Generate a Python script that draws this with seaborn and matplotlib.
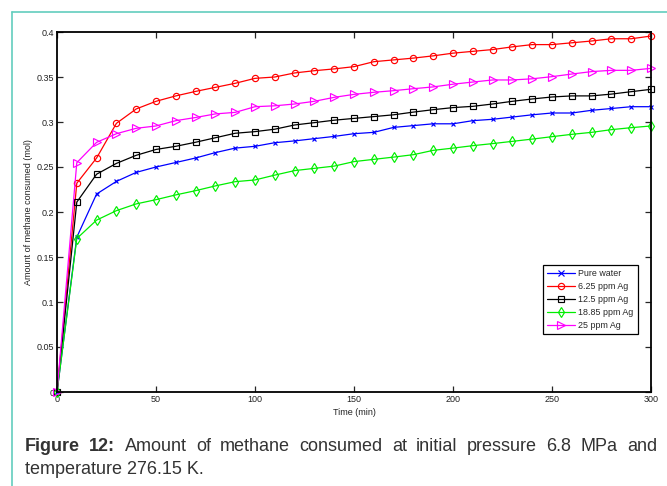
import numpy as np
import pandas as pd
import matplotlib
matplotlib.use("Agg")
import matplotlib.pyplot as plt
import seaborn as sns
from matplotlib.ticker import FixedLocator, FixedFormatter

# ---------------- data ----------------
time_min = [0, 10, 20, 30, 40, 50, 60, 70, 80, 90, 100, 110, 120, 130, 140, 150,
            160, 170, 180, 190, 200, 210, 220, 230, 240, 250, 260, 270, 280, 290, 300]
pure_water = [0, 0.172, 0.220, 0.234, 0.244, 0.250, 0.255, 0.260, 0.266, 0.271, 0.273,
              0.277, 0.279, 0.2815, 0.284, 0.287, 0.2885, 0.294, 0.296, 0.298, 0.298,
              0.3015, 0.303, 0.3055, 0.308, 0.310, 0.310, 0.313, 0.315, 0.317, 0.317]
ag_6_25 = [0, 0.232, 0.260, 0.2985, 0.3145, 0.323, 0.329, 0.334, 0.3385, 0.343, 0.3485,
           0.350, 0.3545, 0.357, 0.359, 0.3615, 0.367, 0.369, 0.371, 0.3735, 0.3765,
           0.3785, 0.3805, 0.3835, 0.386, 0.386, 0.388, 0.390, 0.3925, 0.3925, 0.3955]
ag_12_5 = [0, 0.211, 0.242, 0.254, 0.263, 0.2695, 0.273, 0.2775, 0.2825, 0.2875, 0.2893,
           0.292, 0.2967, 0.2993, 0.302, 0.304, 0.306, 0.308, 0.311, 0.3137, 0.316,
           0.3174, 0.320, 0.323, 0.3256, 0.3278, 0.329, 0.329, 0.331, 0.3337, 0.3363]
ag_18_85 = [0, 0.1705, 0.191, 0.2015, 0.209, 0.2137, 0.219, 0.2237, 0.229, 0.2337, 0.2356,
            0.241, 0.246, 0.2485, 0.251, 0.256, 0.2585, 0.261, 0.2637, 0.2685, 0.271,
            0.2737, 0.276, 0.2785, 0.281, 0.2837, 0.2863, 0.2885, 0.2915, 0.2937, 0.2956]
ag_25 = [0, 0.2548, 0.2774, 0.287, 0.293, 0.2956, 0.3015, 0.305, 0.309, 0.3107, 0.317,
         0.318, 0.320, 0.323, 0.3274, 0.3307, 0.333, 0.3348, 0.337, 0.339, 0.342,
         0.3444, 0.3467, 0.3467, 0.348, 0.3504, 0.3533, 0.356, 0.3574, 0.3574, 0.3596]
series_names = ["Pure water", "6.25 ppm Ag", "12.5 ppm Ag", "18.85 ppm Ag", "25 ppm Ag"]
x_ticks = [0, 50, 100, 150, 200, 250, 300]
y_ticks = [0, 0.05, 0.1, 0.15, 0.2, 0.25, 0.3, 0.35, 0.4]
y_tick_labels = ["0", "0.05", "0.1", "0.15", "0.2", "0.25", "0.3", "0.35", "0.4"]
x_label = "Time (min)"
y_label = "Amount of methane consumed (mol)"
caption_bold = "Figure 12:"
caption_line1 = "Amount of methane consumed at initial pressure 6.8 MPa and"
caption_line2 = "temperature 276.15 K."

frames = []
for name, vals in zip(series_names, [pure_water, ag_6_25, ag_12_5, ag_18_85, ag_25]):
    frames.append(pd.DataFrame({"time": time_min, "value": vals, "series": name}))
df = pd.concat(frames, ignore_index=True)

# ---------------- style ----------------
sns.set_style("ticks")
plt.rcParams["font.family"] = ["Liberation Sans", "DejaVu Sans"]

W, H = 667, 486
fig = plt.figure(figsize=(W / 100, H / 100), dpi=100)
ax = fig.add_axes([57 / W, 1 - 392 / H, (651 - 57) / W, (392 - 32) / H])

palette = {"Pure water": "#0000ff", "6.25 ppm Ag": "#ff0000", "12.5 ppm Ag": "#000000",
           "18.85 ppm Ag": "#00ee00", "25 ppm Ag": "#ff00ff"}
# 'X' is swapped for the thin 'x' cross after drawing
markers = {"Pure water": "X", "6.25 ppm Ag": "o", "12.5 ppm Ag": "s",
           "18.85 ppm Ag": "d", "25 ppm Ag": ">"}

sns.lineplot(data=df, x="time", y="value", hue="series", style="series",
             palette=palette, markers=markers, dashes=False, ax=ax,
             hue_order=series_names, style_order=series_names,
             linewidth=0.9, markersize=4.5, clip_on=False)

handles, labels = ax.get_legend_handles_labels()


def restyle(line):
    m = line.get_marker()
    if m == "X":
        line.set_marker("x")
        line.set_markersize(2.8)
    elif m == ">":
        line.set_markersize(5.5)
    elif m == "d":
        line.set_markersize(5)
    else:
        line.set_markersize(4.5)
    line.set_markeredgecolor(line.get_color())
    line.set_markerfacecolor("none")
    line.set_markeredgewidth(0.85)


for line in ax.get_lines():
    restyle(line)
for h in handles:
    try:
        restyle(h)
    except Exception:
        pass

ax.set_xlim(0, 300)
ax.set_ylim(0, 0.4)
ax.xaxis.set_major_locator(FixedLocator(x_ticks))
ax.yaxis.set_major_locator(FixedLocator(y_ticks))
ax.yaxis.set_major_formatter(FixedFormatter(y_tick_labels))
ax.tick_params(direction="in", top=True, right=True, length=4, width=0.9,
               labelsize=6.5, labelcolor="#222222", pad=2)
for s in ax.spines.values():
    s.set_visible(True)
    s.set_linewidth(1.3)
    s.set_color("black")
ax.set_xlabel(x_label, fontsize=6.5, labelpad=3, color="#222222")
ax.set_ylabel(y_label, fontsize=6.5, labelpad=2.5, color="#222222")

leg = ax.legend(handles, labels, loc="upper right", bbox_to_anchor=(0.985, 0.365),
                fontsize=6.4, frameon=True, fancybox=False, framealpha=1,
                edgecolor="black", handlelength=3.2, borderpad=0.45,
                labelspacing=0.45, handletextpad=0.35)
leg.get_frame().set_linewidth(0.9)

# ---------------- page frame ----------------
teal = "#62cdbd"
fig.add_artist(plt.Line2D([12 / W, 12 / W], [0, 1 - 12 / H], color=teal, lw=1.2,
                          transform=fig.transFigure))
fig.add_artist(plt.Line2D([12 / W, 1], [1 - 12 / H, 1 - 12 / H], color=teal, lw=1.2,
                          transform=fig.transFigure))

# ---------------- justified caption ----------------
renderer = fig.canvas.get_renderer()
cap_color = "#333333"
fs = 13
x0, x1 = 25, 657
y1_px, y2_px = 451, 474
words = [(w, "bold") for w in caption_bold.split()] + [(w, "normal") for w in caption_line1.split()]
texts = []
widths = []
for w, weight in words:
    t = fig.text(0, 1 - y1_px / H, w, fontsize=fs, fontweight=weight, color=cap_color,
                 va="baseline", ha="left")
    texts.append(t)
    widths.append(t.get_window_extent(renderer).width)
gap = (x1 - x0 - sum(widths)) / (len(words) - 1)
xp = x0
for t, wd in zip(texts, widths):
    t.set_x(xp / W)
    xp += wd + gap
fig.text(x0 / W, 1 - y2_px / H, caption_line2, fontsize=fs, color=cap_color,
         va="baseline", ha="left")

fig.savefig("out.png", dpi=100)
